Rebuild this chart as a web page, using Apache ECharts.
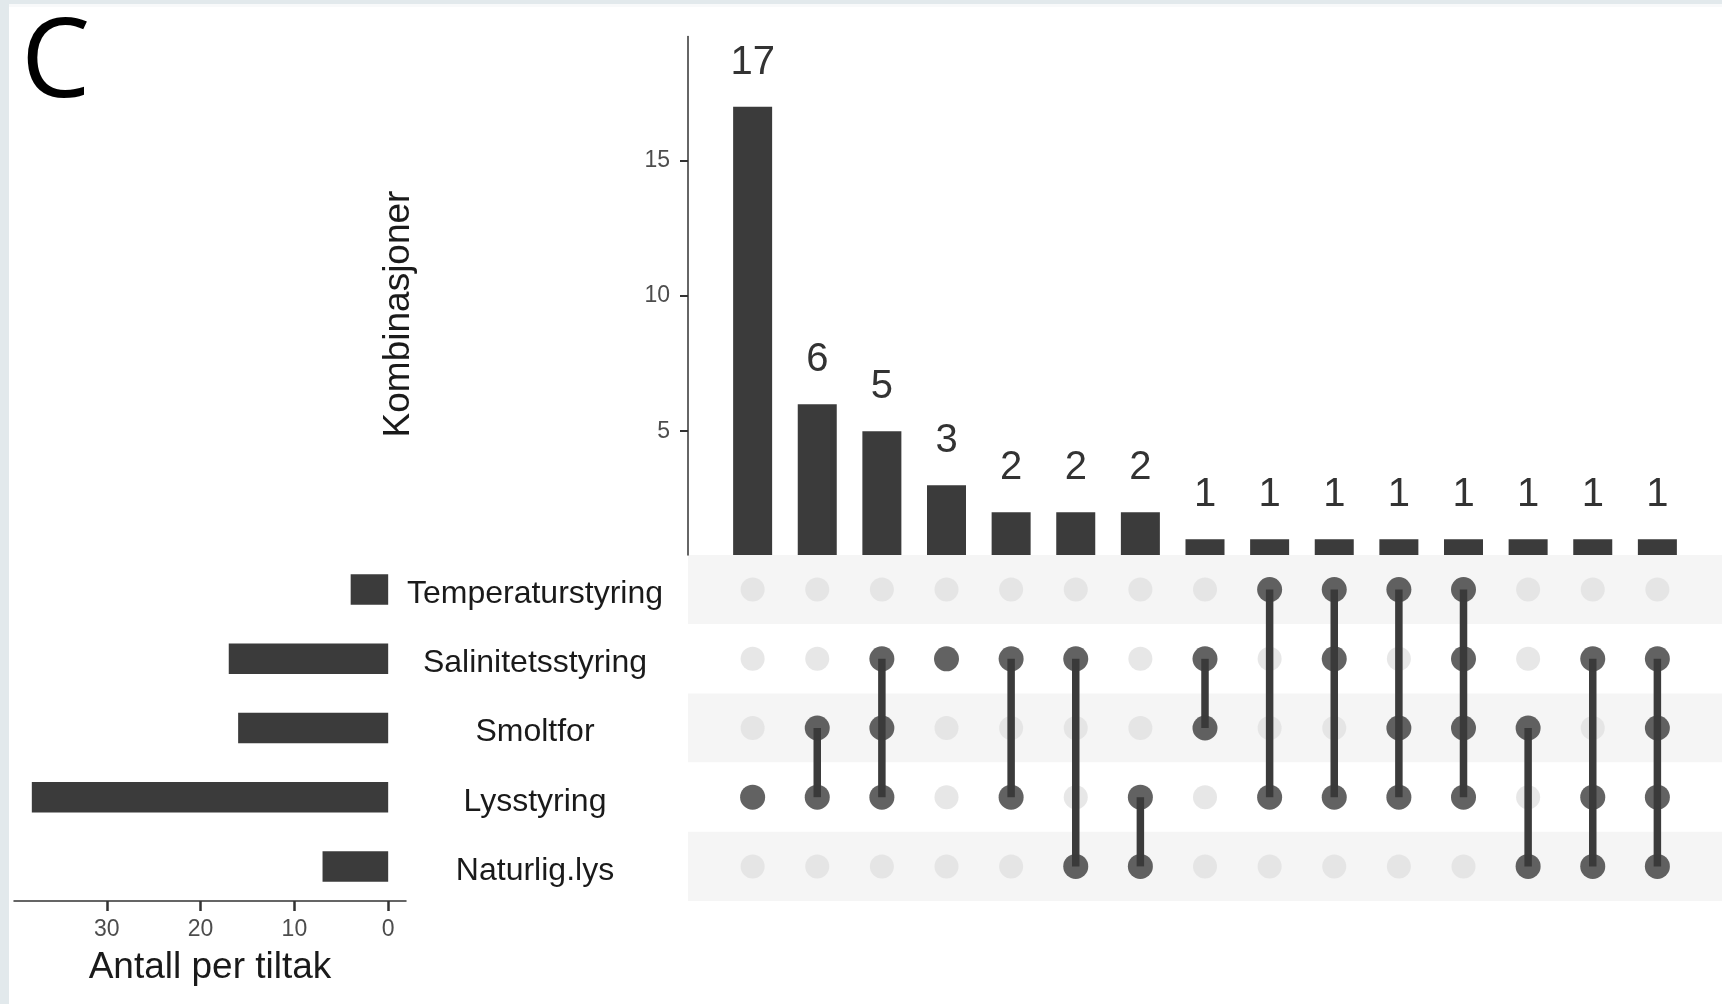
<!DOCTYPE html>
<html>
<head>
<meta charset="utf-8">
<title>Kombinasjoner av tiltak</title>
<script src="https://cdn.jsdelivr.net/npm/echarts@6/dist/echarts.min.js"></script>
<style>
  html, body { margin: 0; padding: 0; background: #ffffff; }
  #chart { width: 1722px; height: 1004px; }
</style>
</head>
<body>
<div id="chart"></div>
<script>
// Measures (sets), listed top to bottom in the matrix
const setNames = ['Temperaturstyring', 'Salinitetsstyring', 'Smoltfor', 'Lysstyring', 'Naturlig.lys'];
// Number of cases per measure
const setSizes = [4, 17, 16, 38, 7];
// Number of cases for each combination of measures
const comboCounts = [17, 6, 5, 3, 2, 2, 2, 1, 1, 1, 1, 1, 1, 1, 1];
// Which measures make up each combination
const comboMembers = [
  ['Lysstyring'],
  ['Smoltfor', 'Lysstyring'],
  ['Salinitetsstyring', 'Smoltfor', 'Lysstyring'],
  ['Salinitetsstyring'],
  ['Salinitetsstyring', 'Lysstyring'],
  ['Salinitetsstyring', 'Naturlig.lys'],
  ['Lysstyring', 'Naturlig.lys'],
  ['Salinitetsstyring', 'Smoltfor'],
  ['Temperaturstyring', 'Lysstyring'],
  ['Temperaturstyring', 'Salinitetsstyring', 'Lysstyring'],
  ['Temperaturstyring', 'Smoltfor', 'Lysstyring'],
  ['Temperaturstyring', 'Salinitetsstyring', 'Smoltfor', 'Lysstyring'],
  ['Smoltfor', 'Naturlig.lys'],
  ['Salinitetsstyring', 'Lysstyring', 'Naturlig.lys'],
  ['Salinitetsstyring', 'Smoltfor', 'Lysstyring', 'Naturlig.lys']
];
// Tick labels
const comboTicks = [5, 10, 15];
const sizeTicks = [0, 10, 20, 30];

const FONT = "'Liberation Sans', Arial, Helvetica, sans-serif";
const DARK = '#3b3b3b';
const LIGHT_DOT = '#e1e1e1';
const AXIS = '#333333';

// Build the matrix points and the connecting segments
const activeDots = [];
const inactiveDots = [];
const segments = [];
comboMembers.forEach((members, i) => {
  const rows = members.map(m => setNames.indexOf(m));
  setNames.forEach((name, r) => {
    if (rows.indexOf(r) >= 0) activeDots.push([i, r]);
    else inactiveDots.push([i, r]);
  });
  if (rows.length > 1) {
    segments.push([i, Math.min.apply(null, rows), Math.max.apply(null, rows)]);
  }
});

const chart = echarts.init(document.getElementById('chart'), null, { renderer: 'canvas' });

const option = {
  animation: false,
  backgroundColor: '#ffffff',
  textStyle: { fontFamily: FONT },
  grid: [
    // combination size bars
    { left: 688, right: 0, top: 36.6, height: 518.4, containLabel: false },
    // set size bars
    { left: 14, width: 392, top: 555, height: 346, containLabel: false },
    // membership matrix
    { left: 688, right: 0, top: 555, height: 346, containLabel: false }
  ],
  xAxis: [
    { gridIndex: 0, type: 'value', min: -1, max: 15, show: false },
    {
      gridIndex: 1, type: 'value', inverse: true, min: -1.9, max: 39.9,
      axisLine: { show: true, onZero: false, lineStyle: { color: AXIS, width: 1.5 } },
      axisTick: { show: true, inside: false, length: 10, customValues: sizeTicks, lineStyle: { color: AXIS, width: 2.5 } },
      axisLabel: { customValues: sizeTicks, fontSize: 23, color: '#4d4d4d', margin: 17, fontFamily: FONT },
      splitLine: { show: false },
      name: 'Antall per tiltak',
      nameLocation: 'middle',
      nameGap: 48,
      nameTextStyle: { fontSize: 37, color: '#1a1a1a', fontFamily: FONT }
    },
    { gridIndex: 2, type: 'value', min: -1, max: 15, show: false }
  ],
  yAxis: [
    {
      gridIndex: 0, type: 'value', min: 0.42, max: 19.6,
      axisLine: { show: true, onZero: false, lineStyle: { color: AXIS, width: 1.5 } },
      axisTick: { show: true, inside: false, length: 8, customValues: comboTicks, lineStyle: { color: AXIS, width: 2 } },
      axisLabel: { customValues: comboTicks, fontSize: 23, color: '#4d4d4d', margin: 18, fontFamily: FONT },
      splitLine: { show: false }
    },
    { gridIndex: 1, type: 'category', data: setNames, inverse: true, show: false },
    {
      gridIndex: 2, type: 'category', data: setNames, inverse: true,
      axisLine: { show: false },
      axisTick: { show: false },
      axisLabel: {
        show: true, align: 'center', verticalAlign: 'top', lineHeight: 9,
        margin: 153, fontSize: 32, color: '#1a1a1a', fontFamily: FONT
      },
      splitLine: { show: false },
      splitArea: { show: true, areaStyle: { color: ['#f5f5f5', '#ffffff'] } }
    }
  ],
  series: [
    {
      name: 'Kombinasjoner',
      type: 'bar',
      xAxisIndex: 0, yAxisIndex: 0,
      barWidth: 39,
      clip: true,
      itemStyle: { color: DARK },
      label: {
        show: true, position: 'top', distance: 24,
        fontSize: 40, color: '#333333', fontFamily: FONT,
        formatter: p => String(p.value[1])
      },
      data: comboCounts.map((v, i) => [i, v])
    },
    {
      name: 'Antall per tiltak',
      type: 'bar',
      xAxisIndex: 1, yAxisIndex: 1,
      barWidth: 30.5,
      itemStyle: { color: DARK },
      data: setSizes
    },
    {
      name: 'Ikke med',
      type: 'scatter',
      xAxisIndex: 2, yAxisIndex: 2,
      symbol: 'circle', symbolSize: 24,
      itemStyle: { color: LIGHT_DOT },
      z: 3,
      data: inactiveDots
    },
    {
      name: 'Forbindelser',
      type: 'custom',
      xAxisIndex: 2, yAxisIndex: 2,
      z: 4,
      renderItem: function (params, api) {
        const a = api.coord([api.value(0), api.value(1)]);
        const b = api.coord([api.value(0), api.value(2)]);
        return {
          type: 'line',
          shape: { x1: a[0], y1: a[1], x2: b[0], y2: b[1] },
          style: { stroke: DARK, lineWidth: 7.5 }
        };
      },
      encode: { x: 0, y: [1, 2] },
      data: segments
    },
    {
      name: 'Med',
      type: 'scatter',
      xAxisIndex: 2, yAxisIndex: 2,
      symbol: 'circle', symbolSize: 25,
      itemStyle: { color: DARK },
      z: 5,
      data: activeDots
    }
  ],
  graphic: [
    { type: 'rect', shape: { x: 0, y: 0, width: 1722, height: 4 }, style: { fill: '#e2e9ec' }, z: 100 },
    { type: 'rect', shape: { x: 0, y: 4, width: 1722, height: 3 }, style: { fill: '#f8f9fa' }, z: 99 },
    { type: 'rect', shape: { x: 0, y: 0, width: 9, height: 1004 }, style: { fill: '#e2e9ec' }, z: 100 },
    {
      type: 'text', x: 21, y: 66, z: 100,
      style: { text: 'C', fontSize: 110, fontFamily: "'Open Sans', sans-serif", fill: '#000000', align: 'left', verticalAlign: 'middle' }
    },
    {
      type: 'text', x: 399, y: 314, rotation: Math.PI / 2, z: 100,
      style: { text: 'Kombinasjoner', fontSize: 37, fontFamily: FONT, fill: '#1a1a1a', align: 'center', verticalAlign: 'middle' }
    }
  ]
};

chart.setOption(option);
</script>
</body>
</html>
